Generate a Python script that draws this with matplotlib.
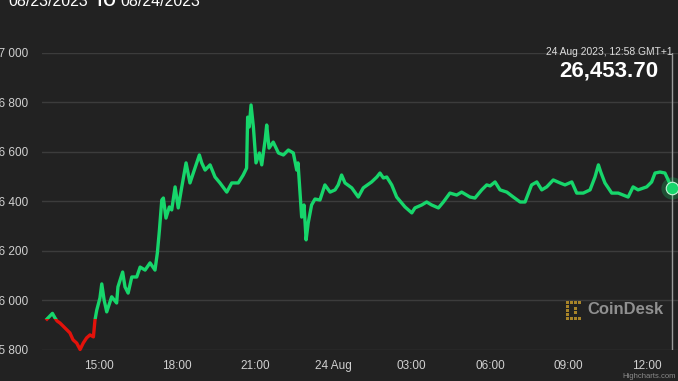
import matplotlib
matplotlib.use("Agg")
import matplotlib.pyplot as plt
from matplotlib.patches import Rectangle
import numpy as np

plt.rcParams['font.family'] = ['Liberation Sans', 'DejaVu Sans']

# hours since 23 Aug 2023 00:00 (GMT+1)
hours = [13.02, 13.23, 13.33, 13.41, 13.52, 13.71, 13.90, 14.02, 14.16, 14.29,
         14.41, 14.54, 14.67, 14.80, 14.86, 14.93, 15.05, 15.12, 15.21, 15.31,
         15.50, 15.69, 15.74, 15.92, 16.01, 16.13, 16.27, 16.46, 16.59, 16.78,
         16.97, 17.16, 17.25, 17.33, 17.42, 17.48, 17.58, 17.71, 17.80, 17.93,
         18.05, 18.18, 18.35, 18.50, 18.69, 18.86, 18.95, 19.08, 19.27, 19.46,
         19.65, 19.91, 20.10, 20.35, 20.54, 20.67, 20.71, 20.77, 20.84, 20.93,
         21.03, 21.16, 21.25, 21.38, 21.44, 21.53, 21.69, 21.89, 22.08, 22.27,
         22.46, 22.59, 22.64, 22.78, 22.87, 22.95, 23.03, 23.16, 23.29, 23.48,
         23.67, 23.87, 24.06, 24.18, 24.31, 24.44, 24.70, 24.95, 25.14, 25.46,
         25.66, 25.78, 25.91, 26.04, 26.23, 26.42, 26.74, 27.00, 27.12, 27.38,
         27.57, 27.76, 28.02, 28.21, 28.46, 28.72, 28.91, 29.23, 29.42, 29.68,
         29.87, 30.00, 30.19, 30.38, 30.64, 30.89, 31.15, 31.34, 31.59, 31.79,
         31.98, 32.17, 32.42, 32.68, 32.87, 33.13, 33.32, 33.57, 33.83, 34.02,
         34.15, 34.24, 34.40, 34.66, 34.91, 35.10, 35.29, 35.48, 35.67, 36.00,
         36.19, 36.32, 36.51, 36.70, 36.97]
prices = [25925, 25948, 25929, 25917, 25909, 25889, 25869, 25841, 25828, 25802,
          25828, 25849, 25861, 25853, 25921, 25962, 26010, 26067, 26002, 25954,
          26015, 25990, 26055, 26115, 26055, 26030, 26095, 26095, 26135, 26123,
          26152, 26123, 26192, 26285, 26406, 26414, 26333, 26378, 26366, 26459,
          26374, 26455, 26556, 26475, 26535, 26588, 26556, 26527, 26548, 26499,
          26475, 26438, 26475, 26475, 26507, 26535, 26741, 26701, 26790, 26701,
          26556, 26596, 26548, 26649, 26709, 26616, 26640, 26596, 26588, 26608,
          26596, 26527, 26556, 26337, 26386, 26245, 26313, 26386, 26410, 26406,
          26467, 26438, 26447, 26467, 26507, 26475, 26455, 26418, 26455, 26479,
          26499, 26515, 26495, 26499, 26467, 26418, 26378, 26354, 26374, 26386,
          26398, 26386, 26374, 26398, 26434, 26426, 26438, 26418, 26414, 26447,
          26467, 26463, 26479, 26447, 26438, 26418, 26398, 26398, 26467, 26479,
          26447, 26459, 26487, 26475, 26467, 26479, 26434, 26434, 26447, 26499,
          26548, 26519, 26475, 26434, 26434, 26426, 26418, 26459, 26447, 26459,
          26479, 26515, 26519, 26515, 26453.70]

tick_hours = [15, 18, 21, 24, 27, 30, 33, 36]
tick_labels = ["15:00", "18:00", "21:00", "24 Aug", "03:00", "06:00", "09:00", "12:00"]
y_ticks = [25800, 26000, 26200, 26400, 26600, 26800, 27000]
y_labels = ["25 800", "26 000", "26 200", "26 400", "26 600", "26 800", "27 000"]

BG = "#222222"
GREEN = "#17d66b"
RED = "#e3120b"

W, H = 678, 381
fig = plt.figure(figsize=(W / 100, H / 100), dpi=100, facecolor=BG)
ax = fig.add_axes([42 / W, 1 - 350 / H, 1 - 42 / W, (350 - 53) / H])
ax.set_facecolor(BG)
ax.set_xlim(12.83, 37.20)
ax.set_ylim(25800, 27000)

for s in ax.spines.values():
    s.set_visible(False)
ax.set_yticks(y_ticks)
ax.set_yticklabels(y_labels)
ax.set_xticks(tick_hours)
ax.set_xticklabels(tick_labels)
ax.tick_params(axis='y', length=0, pad=10, labelsize=8.5, labelcolor="#d0d0d0")
ax.tick_params(axis='x', length=0, pad=7, labelsize=8.5, labelcolor="#d0d0d0")
ax.grid(axis='y', color="#3c3c3c", lw=1)
ax.set_axisbelow(True)

threshold = prices[0]
lg, = ax.plot(hours, prices, color=GREEN, lw=2.4, solid_joinstyle='round', zorder=3)
lr, = ax.plot(hours, prices, color=RED, lw=2.4, solid_joinstyle='round', zorder=3)
clip_up = Rectangle((0, threshold), 100, 5000, transform=ax.transData)
clip_dn = Rectangle((0, threshold - 5000), 100, 5000, transform=ax.transData)
lg.set_clip_path(clip_up)
lr.set_clip_path(clip_dn)

# crosshair and current marker
ax.axvline(hours[-1], color="#9a9a9a", lw=1, zorder=2)
ax.plot([hours[-1]], [prices[-1]], 'o', ms=16, color=GREEN, alpha=0.25, mec='none', zorder=4, clip_on=False)
ax.plot([hours[-1]], [prices[-1]], 'o', ms=9, color=GREEN, mec="#c8f5d8", mew=0.8, zorder=5, clip_on=False)

# top-left title (clipped at top)
fig.text(8 / W, 1 - 6 / H, "08/23/2023", color="white", fontsize=11.5, ha='left', va='baseline')
fig.text(95 / W, 1 - 6 / H, "TO", color="white", fontsize=11.5, fontweight='bold', ha='left', va='baseline')
fig.text(120 / W, 1 - 6 / H, "08/24/2023", color="white", fontsize=11.5, ha='left', va='baseline')

# tooltip
fig.text(672 / W, 1 - 52 / H, "24 Aug 2023, 12:58 GMT+1", color="#dddddd", fontsize=7.4,
         ha='right', va='center')
fig.text(658 / W, 1 - 71 / H, "26,453.70", color="white", fontsize=16, fontweight='bold',
         ha='right', va='center')

# CoinDesk watermark
gold = "#a88428"
for (px, py) in [(566, 301), (570, 301), (574, 301), (578, 301), (566, 305), (566, 309),
                 (566, 313), (566, 317), (570, 317), (574, 317), (578, 317),
                 (574, 307), (574, 311)]:
    fig.patches.append(Rectangle((px / W, 1 - (py + 3) / H), 3 / W, 3 / H,
                                 transform=fig.transFigure, color=gold, lw=0))
fig.text(587 / W, 1 - 310 / H, "CoinDesk", color="#909090", fontsize=12, fontweight='bold',
         ha='left', va='center')

fig.text(676 / W, 1 - 376 / H, "Highcharts.com", color="#8a8a8a", fontsize=5.5,
         ha='right', va='center')

fig.savefig("out.png", dpi=100, facecolor=BG)
